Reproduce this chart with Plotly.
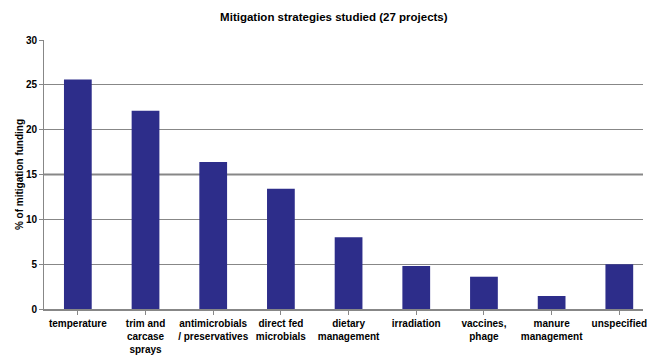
import plotly.graph_objects as go

# Share of mitigation funding by strategy
categories = [
    "temperature",
    "trim and<br>carcase<br>sprays",
    "antimicrobials<br>/ preservatives",
    "direct fed<br>microbials",
    "dietary<br>management",
    "irradiation",
    "vaccines,<br>phage",
    "manure<br>management",
    "unspecified",
]
funding_pct = [25.6, 22.1, 16.4, 13.4, 8.0, 4.8, 3.6, 1.45, 5.0]
y_ticks = [0, 5, 10, 15, 20, 25, 30]

FONT = "Liberation Sans, Arial, sans-serif"
GRID = "#878787"

fig = go.Figure(
    go.Bar(
        x=list(range(len(categories))),
        y=funding_pct,
        marker=dict(color="#2d2d8a", line=dict(width=0)),
        width=0.41,
    )
)

fig.update_layout(
    width=647,
    height=356,
    margin=dict(l=44, r=0, t=40, b=47),
    paper_bgcolor="white",
    plot_bgcolor="white",
    showlegend=False,
    font=dict(family=FONT, size=10, color="black", weight="bold"),
    title=dict(
        text="Mitigation strategies studied (27 projects)",
        xref="container",
        x=0.516,
        xanchor="center",
        y=0.952,
        yanchor="middle",
        font=dict(family=FONT, size=11.5, color="black", weight="bold"),
    ),
    xaxis=dict(
        tickmode="array",
        tickvals=list(range(len(categories))),
        ticktext=categories,
        range=[-0.5, 8.35],
        showgrid=False,
        showline=True,
        linecolor=GRID,
        linewidth=2,
        ticks="outside",
        ticklen=4,
        tickcolor=GRID,
        tickson="boundaries",
        ticklabeloverflow="allow",
        tickfont=dict(family=FONT, size=10, color="black", weight="bold"),
        zeroline=False,
    ),
    yaxis=dict(
        range=[0, 30],
        tickmode="array",
        tickvals=y_ticks,
        showgrid=True,
        gridcolor=GRID,
        gridwidth=1,
        showline=True,
        linecolor=GRID,
        linewidth=1,
        ticks="outside",
        ticklen=4,
        tickcolor=GRID,
        zeroline=False,
        tickfont=dict(family=FONT, size=10, color="black", weight="bold"),
        title=dict(
            text="% of mitigation funding",
            standoff=0,
            font=dict(family=FONT, size=10, color="black", weight="bold"),
        ),
    ),
    shapes=[
        dict(
            type="line", xref="paper", x0=0, x1=1, yref="y", y0=15, y1=15,
            line=dict(color=GRID, width=2), layer="below",
        )
    ],
)

fig.write_html("out.html")
